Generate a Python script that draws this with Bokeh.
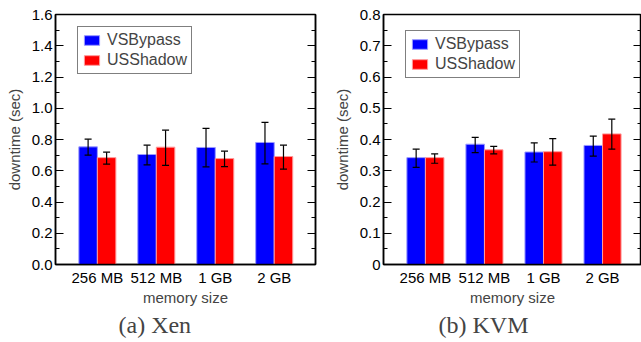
from bokeh.plotting import figure
from bokeh.models import (Range1d, FixedTicker, LinearAxis, Whisker, ColumnDataSource,
                          Legend, LegendItem, Title, TeeHead)
from bokeh.layouts import row
from bokeh.embed import file_html
from bokeh.resources import INLINE

categories = ["256 MB", "512 MB", "1 GB", "2 GB"]
series_names = ["VSBypass", "USShadow"]

xen_vsbypass = [0.753, 0.704, 0.749, 0.781]
xen_vsbypass_lo = [0.700, 0.637, 0.625, 0.644]
xen_vsbypass_hi = [0.802, 0.764, 0.871, 0.909]
xen_usshadow = [0.684, 0.751, 0.678, 0.691]
xen_usshadow_lo = [0.642, 0.635, 0.627, 0.610]
xen_usshadow_hi = [0.719, 0.860, 0.725, 0.764]

kvm_vsbypass = [0.342, 0.385, 0.360, 0.381]
kvm_vsbypass_lo = [0.311, 0.358, 0.328, 0.347]
kvm_vsbypass_hi = [0.369, 0.407, 0.389, 0.411]
kvm_usshadow = [0.342, 0.367, 0.361, 0.418]
kvm_usshadow_lo = [0.324, 0.354, 0.318, 0.369]
kvm_usshadow_hi = [0.354, 0.378, 0.403, 0.465]

xen_yticks = [0.0, 0.2, 0.4, 0.6, 0.8, 1.0, 1.2, 1.4, 1.6]
xen_ylabels = ["0.0", "0.2", "0.4", "0.6", "0.8", "1.0", "1.2", "1.4", "1.6"]
xen_yminor = [0.1, 0.3, 0.5, 0.7, 0.9, 1.1, 1.3, 1.5]
kvm_yticks = [0.0, 0.1, 0.2, 0.3, 0.4, 0.5, 0.6, 0.7, 0.8]
kvm_ylabels = ["0", "0.1", "0.2", "0.3", "0.4", "0.5", "0.6", "0.7", "0.8"]
kvm_yminor = [0.05, 0.15, 0.25, 0.35, 0.45, 0.55, 0.65, 0.75]

BLUE = "#0000ff"
RED = "#ff0000"
FONT = "Liberation Sans"
FS = "15px"


def make_panel(caption, caption_offset, vals_a, lo_a, hi_a, vals_b, lo_b, hi_b,
               yticks, ylabels, yminor, ymax, x_end, frame_w, border_l, border_r,
               legend_loc):
    n = len(categories)
    centers = list(range(1, n + 1))
    bw = 0.314
    xa = [c - bw / 2 for c in centers]
    xb = [c + bw / 2 for c in centers]

    p = figure(frame_width=frame_w, frame_height=250,
               x_range=Range1d(0.29, x_end), y_range=Range1d(0, ymax),
               output_backend="svg", toolbar_location=None,
               min_border_left=border_l, min_border_right=border_r,
               min_border_top=14, min_border_bottom=0)
    p.xgrid.visible = False
    p.ygrid.visible = False
    p.outline_line_color = "black"
    p.outline_line_width = 1.5
    p.background_fill_color = "white"
    p.border_fill_color = "white"

    ra = p.vbar(x=xa, top=vals_a, width=bw, bottom=0, fill_color=BLUE,
                line_color="#9a9aff", line_width=1)
    rb = p.vbar(x=xb, top=vals_b, width=bw, bottom=0, fill_color=RED,
                line_color="#ff9a9a", line_width=1)

    for xs, lo, hi in ((xa, lo_a, hi_a), (xb, lo_b, hi_b)):
        src = ColumnDataSource(dict(x=xs, lo=lo, hi=hi))
        w = Whisker(source=src, base="x", lower="lo", upper="hi",
                    line_color="black", line_width=1.2,
                    upper_head=TeeHead(size=7, line_color="black", line_width=1.2),
                    lower_head=TeeHead(size=7, line_color="black", line_width=1.2),
                    level="overlay")
        p.add_layout(w)

    # x axis
    xa_ax = p.xaxis[0]
    xa_ax.ticker = FixedTicker(ticks=centers)
    xa_ax.major_label_overrides = {c: lab for c, lab in zip(centers, categories)}
    xa_ax.major_tick_in = 0
    xa_ax.major_tick_out = 0
    xa_ax.minor_tick_line_color = None
    xa_ax.axis_line_width = 1.5
    xa_ax.major_label_text_font = FONT
    xa_ax.major_label_text_font_size = FS
    xa_ax.major_label_text_color = "black"
    xa_ax.major_label_standoff = 4
    xa_ax.axis_label = "memory size"
    xa_ax.axis_label_text_font = FONT
    xa_ax.axis_label_text_font_size = FS
    xa_ax.axis_label_text_font_style = "normal"
    xa_ax.axis_label_standoff = 0

    # y axis (left)
    ya = p.yaxis[0]
    ya.ticker = FixedTicker(ticks=yticks, minor_ticks=yminor)
    ya.major_label_overrides = {t: l for t, l in zip(yticks, ylabels)}
    ya.major_tick_in = 8
    ya.major_tick_out = 0
    ya.minor_tick_in = 4
    ya.minor_tick_out = 0
    ya.axis_line_width = 1.5
    ya.major_tick_line_width = 1.2
    ya.minor_tick_line_width = 1.2
    ya.major_label_text_font = FONT
    ya.major_label_text_font_size = FS
    ya.major_label_text_color = "black"
    ya.major_label_standoff = 3
    ya.axis_label = "downtime (sec)"
    ya.axis_label_text_font = FONT
    ya.axis_label_text_font_size = FS
    ya.axis_label_text_font_style = "normal"
    ya.axis_label_standoff = 6

    # right axis: ticks only, no labels
    rax = LinearAxis(ticker=FixedTicker(ticks=yticks, minor_ticks=yminor),
                     major_label_overrides={t: "" for t in yticks},
                     major_label_text_color=None, major_label_standoff=0,
                     major_tick_in=8, major_tick_out=0,
                     minor_tick_in=4, minor_tick_out=0,
                     axis_line_width=1.5, major_tick_line_width=1.2,
                     minor_tick_line_width=1.2)
    p.add_layout(rax, "right")

    leg = Legend(items=[LegendItem(label=series_names[0], renderers=[ra]),
                        LegendItem(label=series_names[1], renderers=[rb])],
                 location=legend_loc, padding=4, spacing=2, margin=0,
                 glyph_width=19, glyph_height=12, label_standoff=6,
                 label_height=15, label_text_font=FONT, label_text_font_size="16px",
                 border_line_color="black", border_line_width=1.5,
                 background_fill_alpha=1.0)
    p.add_layout(leg, "center")

    t = Title(text=caption, align="left", offset=caption_offset,
              text_font="Liberation Serif", text_font_size="24px",
              text_font_style="normal", standoff=2)
    p.add_layout(t, "below")
    return p


p1 = make_panel("(a) Xen", 63, xen_vsbypass, xen_vsbypass_lo, xen_vsbypass_hi,
                xen_usshadow, xen_usshadow_lo, xen_usshadow_hi,
                xen_yticks, xen_ylabels, xen_yminor, 1.6, 4.7, 260, 55, 5, (22, 190))
p2 = make_panel("(b) KVM", 55, kvm_vsbypass, kvm_vsbypass_lo, kvm_vsbypass_hi,
                kvm_usshadow, kvm_usshadow_lo, kvm_usshadow_hi,
                kvm_yticks, kvm_ylabels, kvm_yminor, 0.8, 4.66, 258, 63, 0, (22, 186))

layout = row(p1, p2, spacing=0)
open("out.html", "w").write(file_html(layout, INLINE))
